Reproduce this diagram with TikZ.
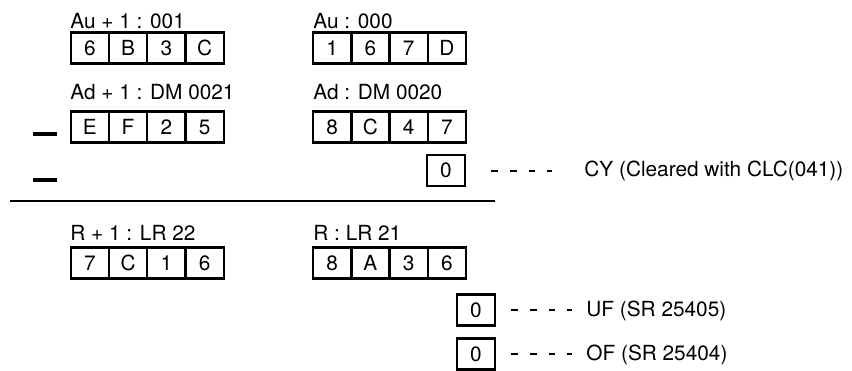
\documentclass[tikz,border=0pt]{standalone}
\usepackage{fontspec}
\setmainfont{TeX Gyre Heros}
\usetikzlibrary{positioning}

\begin{document}
\begin{tikzpicture}[x=0.5pt,y=-0.5pt,
    font=\fontsize{10.4}{12}\selectfont,
    cell/.style={draw,line width=1.2pt,minimum width=19.1pt,minimum height=15.5pt,inner sep=0pt},
    lbl/.style={anchor=base west,inner sep=0pt},
    note/.style={anchor=west,inner sep=0pt},
    leader/.style={line width=1pt,dash pattern=on 3.3pt off 6pt},
    minus/.style={line width=2pt}]
    \useasboundingbox (0,0) rectangle (852,370);
    % operand labels
    \node[lbl] (au1lbl) at (70,28) {Au + 1 : 001};
    \node[lbl] (aulbl) at (313,28) {Au : 000};
    \node[lbl] (ad1lbl) at (70,99) {Ad + 1 : DM 0021};
    \node[lbl] (adlbl) at (313,99) {Ad : DM 0020};
    \node[lbl] (r1lbl) at (70,240) {R + 1 : LR 22};
    \node[lbl] (rlbl) at (313,240) {R : LR 21};
    % register cells
    \foreach \v [count=\i] in {6,B,3,C} {
        \node[cell] (au1\i) at ({51.6+38.25*\i},48) {\v};
    }
    \foreach \v [count=\i] in {1,6,7,D} {
        \node[cell] (au\i) at ({293.9+38.25*\i},48) {\v};
    }
    \foreach \v [count=\i] in {E,F,2,5} {
        \node[cell] (ad1\i) at ({51.6+38.25*\i},127) {\v};
    }
    \foreach \v [count=\i] in {8,C,4,7} {
        \node[cell] (ad\i) at ({293.9+38.25*\i},127) {\v};
    }
    \foreach \v [count=\i] in {7,C,1,6} {
        \node[cell] (r1\i) at ({51.6+38.25*\i},263) {\v};
    }
    \foreach \v [count=\i] in {8,A,3,6} {
        \node[cell] (r\i) at ({293.9+38.25*\i},263) {\v};
    }
    % flags
    \node[cell] (cy) at (446,170.5) {0};
    \node[cell] (uf) at (476,310) {0};
    \node[cell] (of) at (476,354) {0};
    \node[note] (cytxt) at (584,171) {CY (Cleared with CLC(041))};
    \node[note] (uftxt) at (586,311) {UF (SR 25405)};
    \node[note] (oftxt) at (586,355) {OF (SR 25404)};
    \draw[leader,shorten <=12.5pt,shorten >=16pt] (cy.east) -- (cy.east -| cytxt.west);
    \draw[leader,shorten <=7.5pt,shorten >=7pt] (uf.east) -- (uf.east -| uftxt.west);
    \draw[leader,shorten <=7.5pt,shorten >=7pt] (of.east) -- (of.east -| oftxt.west);
    % minus signs and result rule
    \draw[minus] (33,134) -- (57,134);
    \draw[minus] (33,180) -- (57,180);
    \draw[line width=1.2pt] (10,201) -- (495,201);
\end{tikzpicture}
\end{document}
